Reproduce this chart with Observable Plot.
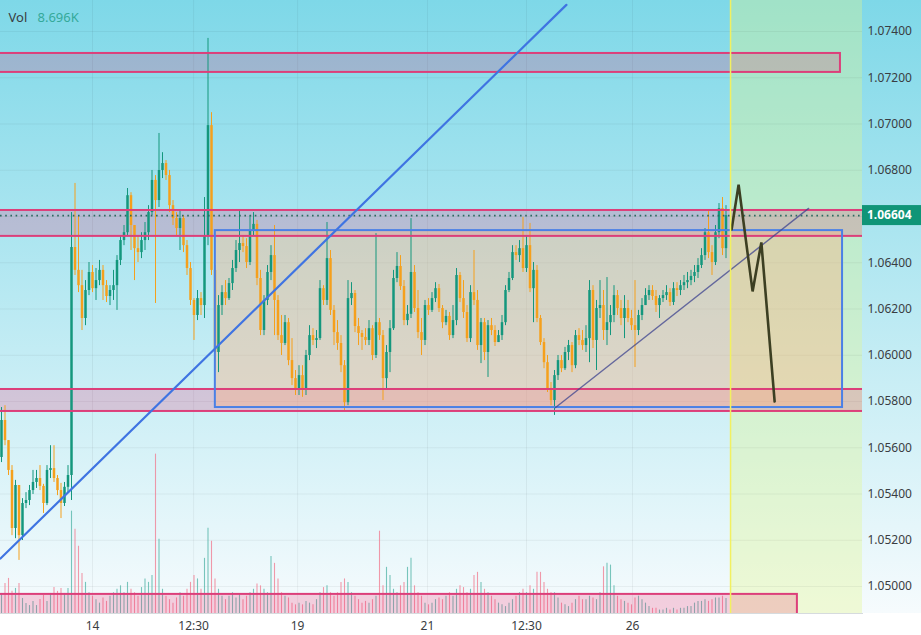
<!DOCTYPE html>
<html><head><meta charset="utf-8">
<script src="https://cdn.jsdelivr.net/npm/d3@7"></script>
<script src="https://cdn.jsdelivr.net/npm/@observablehq/plot@0.6"></script>
<style>html,body{margin:0;padding:0;background:#fff;overflow:hidden}</style>
</head><body><div id="chart"></div>
<script>
// ---- data (EUR/USD style candles) ----
const firstOpen = 1.05558;
const closes = [1.05718,1.05631,1.05502,1.05251,1.05437,1.05220,1.05359,1.05372,1.05415,1.05450,
1.05467,1.05433,1.05359,1.05502,1.05510,1.05467,1.05415,1.05359,1.05429,1.05480,
1.06466,1.06367,1.06301,1.06159,1.06280,1.06358,1.06288,1.06323,1.06367,1.06301,
1.06254,1.06280,1.06301,1.06410,1.06496,1.06530,1.06690,1.06561,1.06461,1.06444,
1.06496,1.06530,1.06617,1.06756,1.06669,1.06799,1.06829,1.06777,1.06647,1.06591,
1.06548,1.06591,1.06474,1.06375,1.06237,1.06172,1.06245,1.06215,1.06517,1.06993,
1.06367,1.06012,1.06215,1.06271,1.06245,1.06310,1.06375,1.06453,1.06483,1.06470,
1.06401,1.06539,1.06566,1.06332,1.06107,1.06237,1.06358,1.06431,1.06237,1.06085,
1.06051,1.06141,1.05977,1.05899,1.05856,1.05912,1.05848,1.05999,1.06085,1.06064,
1.06072,1.06288,1.06237,1.06418,1.06194,1.06098,1.06051,1.05955,1.05795,1.06245,
1.06267,1.06124,1.06094,1.06077,1.06064,1.06115,1.05999,1.06141,1.06085,1.05899,
1.06012,1.06115,1.06332,1.06384,1.06297,1.06150,1.06177,1.06358,1.06202,1.06098,
1.06064,1.06215,1.06194,1.06245,1.06288,1.06202,1.06141,1.06168,1.06085,1.06150,
1.06345,1.06245,1.06185,1.06072,1.06271,1.06237,1.06042,1.06141,1.06012,1.06128,
1.06107,1.06055,1.06085,1.06141,1.06280,1.06332,1.06444,1.06431,1.06461,1.06375,
1.06474,1.06288,1.06367,1.06159,1.06055,1.05968,1.05856,1.05804,1.05912,1.05977,
1.05942,1.06012,1.06042,1.05955,1.06085,1.06064,1.06042,1.06072,1.06280,1.06064,
1.06202,1.06215,1.06107,1.06141,1.06172,1.06258,1.06202,1.06159,1.06202,1.06159,
1.06128,1.06107,1.06172,1.06215,1.06258,1.06280,1.06254,1.06215,1.06245,1.06258,
1.06271,1.06228,1.06288,1.06280,1.06301,1.06314,1.06323,1.06341,1.06358,1.06388,
1.06431,1.06530,1.06444,1.06401,1.06530,1.06634,1.06461,1.06604];
const highs = [1.05774,1.05782,1.05631,1.05523,1.05459,1.05415,1.05380,1.05406,1.05437,1.05502,
1.05502,1.05523,1.05442,1.05523,1.05609,1.05609,1.05480,1.05446,1.05450,1.05523,
1.06617,1.06743,1.06604,1.06367,1.06323,1.06401,1.06388,1.06375,1.06410,1.06388,
1.06323,1.06301,1.06367,1.06431,1.06517,1.06561,1.06721,1.06703,1.06539,1.06517,
1.06530,1.06574,1.06647,1.06799,1.06777,1.06959,1.06876,1.06842,1.06799,1.06669,
1.06617,1.06626,1.06604,1.06496,1.06401,1.06245,1.06280,1.06271,1.06682,1.07370,
1.07049,1.06388,1.06258,1.06301,1.06323,1.06332,1.06410,1.06496,1.06626,1.06517,
1.06504,1.06604,1.06617,1.06583,1.06367,1.06258,1.06388,1.06474,1.06561,1.06258,
1.06172,1.06172,1.06159,1.06072,1.05934,1.05955,1.05955,1.06021,1.06128,1.06115,
1.06107,1.06323,1.06301,1.06574,1.06453,1.06215,1.06150,1.06085,1.05977,1.06323,
1.06314,1.06280,1.06159,1.06107,1.06115,1.06150,1.06128,1.06526,1.06159,1.06107,
1.06042,1.06150,1.06367,1.06444,1.06431,1.06323,1.06215,1.06591,1.06388,1.06280,
1.06159,1.06237,1.06245,1.06271,1.06314,1.06306,1.06215,1.06194,1.06185,1.06215,
1.06375,1.06358,1.06323,1.06215,1.06301,1.06453,1.06280,1.06159,1.06159,1.06150,
1.06159,1.06128,1.06107,1.06172,1.06301,1.06358,1.06474,1.06474,1.06496,1.06596,
1.06517,1.06570,1.06401,1.06388,1.06172,1.06072,1.05999,1.05882,1.05934,1.05999,
1.05999,1.06034,1.06064,1.06055,1.06107,1.06115,1.06107,1.06128,1.06323,1.06301,
1.06237,1.06323,1.06280,1.06336,1.06215,1.06301,1.06280,1.06237,1.06258,1.06237,
1.06194,1.06323,1.06194,1.06245,1.06288,1.06301,1.06301,1.06280,1.06258,1.06280,
1.06301,1.06288,1.06314,1.06314,1.06323,1.06345,1.06358,1.06367,1.06388,1.06418,
1.06461,1.06548,1.06626,1.06474,1.06561,1.06656,1.06682,1.06647];
const lows = [1.05536,1.05609,1.05480,1.05220,1.05207,1.05113,1.05199,1.05337,1.05350,1.05398,
1.05424,1.05415,1.05316,1.05350,1.05467,1.05450,1.05393,1.05294,1.05346,1.05406,
1.05372,1.06345,1.06271,1.06107,1.06128,1.06258,1.06271,1.06237,1.06301,1.06237,
1.06228,1.06215,1.06237,1.06194,1.06388,1.06474,1.06517,1.06453,1.06323,1.06401,
1.06418,1.06453,1.06496,1.06604,1.06224,1.06639,1.06764,1.06756,1.06617,1.06561,
1.06517,1.06453,1.06444,1.06345,1.06215,1.06064,1.06150,1.06172,1.06159,1.06474,
1.06345,1.05934,1.05925,1.06172,1.06215,1.06237,1.06280,1.06358,1.06401,1.06444,
1.06375,1.06388,1.06517,1.06301,1.06085,1.06085,1.06215,1.06323,1.06085,1.06064,
1.05999,1.06042,1.05955,1.05869,1.05826,1.05826,1.05818,1.05826,1.05977,1.06042,
1.06029,1.06064,1.06215,1.06215,1.06172,1.06042,1.06021,1.05925,1.05761,1.05782,
1.06215,1.06098,1.06042,1.06021,1.06042,1.06042,1.05977,1.05986,1.06064,1.05804,
1.05856,1.05925,1.06107,1.06314,1.06280,1.06128,1.06128,1.06159,1.06185,1.06072,
1.05999,1.06042,1.06172,1.06185,1.06228,1.06185,1.06115,1.06128,1.06064,1.06072,
1.06128,1.06228,1.06159,1.06055,1.06055,1.06215,1.06021,1.05964,1.05977,1.05904,
1.06085,1.06038,1.06055,1.06064,1.06128,1.06271,1.06323,1.06410,1.06401,1.06358,
1.06358,1.06271,1.06141,1.06141,1.06042,1.05942,1.05839,1.05782,1.05740,1.05891,
1.05925,1.05934,1.05977,1.05925,1.05942,1.06042,1.06021,1.06012,1.05968,1.06029,
1.05934,1.06159,1.06064,1.06042,1.06085,1.06141,1.06172,1.06128,1.06072,1.06141,
1.06107,1.05947,1.06085,1.06150,1.06215,1.06237,1.06237,1.06185,1.06159,1.06228,
1.06237,1.06211,1.06215,1.06254,1.06258,1.06280,1.06288,1.06301,1.06314,1.06332,
1.06375,1.06410,1.06418,1.06345,1.06388,1.06504,1.06431,1.06418];
const volumesK = [11.6,17.4,20.3,12.8,14.5,17.4,8.7,5.8,4.6,7.0,
4.6,8.1,10.4,7.0,11.6,15.1,12.8,14.5,11.6,14.5,
59.2,48.7,38.9,23.2,18,12,10,8,6,9,
7,10,12,14,16,12,18,14,12,10,
15,20,18,22,92.2,42.9,14,10,8,6,
9,12,10,14,18,22,20,14,31.9,49.3,
41.8,20,14,10,8,10,12,9,11,8,
10,12,14,17,16,14,12,33,29,20,
12,10,9,6,5,6,5,7,6,5,
8,12,15,16,12,10,12,18,20,18,
12,10,8,6,7,6,8,10,47.6,16,
26.7,22,14,12,16,18,26.7,31.9,16,12,
10,6,5,6,8,9,8,10,12,10,
14,16,15,12,14,22,23.8,18,14,12,
10,8,6,5,4,6,8,10,12,14,
12,16,14,23.8,23.8,18,14,12,12,9,
6,5,4,6,8,10,8,8,10,9,
8,12,27,29,28,16,10,8,7,6,
5,9,10,8,6,4,3,3,2,2,
3,2,3,2,3,3,4,4,6,7,
7,8,7,8,9,9,10,8.696];

// time axis (bar index) tick labels
const xTickPos = [26, 54.9, 84.6, 121.7, 150, 180.3];
const xTickLabels = ["14", "12:30", "19", "21", "12:30", "26"];
const yTicks = [1.050,1.052,1.054,1.056,1.058,1.060,1.062,1.064,1.066,1.068,1.070,1.072,1.074];
const yTickShown = [1.050,1.052,1.054,1.056,1.058,1.060,1.062,1.064,1.068,1.070,1.072,1.074];
const lastPrice = 1.06604;
const lastVolLabel = "8.696K";

// drawings (price zones, range box, trend lines, forecast path)
const zoneStart = [-10, -10, -10, -10];
const zoneEnd = [239.7, 260, 260, 227.4];
const zoneLow = [1.07223, 1.06514, 1.05757, 1.04800];
const zoneHigh = [1.07305, 1.06626, 1.05852, 1.04966];
const boxStart = 61.1, boxEnd = 240.3, boxLow = 1.05774, boxHigh = 1.06539;
const channelIdx = [-0.3, 161.4], channelPrice = [1.05121, 1.07515];
const trendIdx = [158.3, 230.6], trendPrice = [1.05774, 1.06635];
const forecastIdx = [208.6, 210.6, 214.6, 217.1, 220.9];
const forecastPrice = [1.06544, 1.06738, 1.06276, 1.06488, 1.05800];
const nowIdx = 208.3;

// ---- build ----
const candles = closes.map((c, i) => {
  const o = i === 0 ? firstOpen : closes[i - 1];
  return {i, o, c, h: Math.max(highs[i], o, c), l: Math.min(lows[i], o, c), v: volumesK[i], up: c >= o};
});
const zones = zoneLow.map((lo, k) => ({x1: zoneStart[k], x2: zoneEnd[k], y1: lo, y2: zoneHigh[k]}));
const channel = channelIdx.map((x, k) => ({x, y: channelPrice[k]}));
const trend = trendIdx.map((x, k) => ({x, y: trendPrice[k]}));
const forecast = forecastIdx.map((x, k) => ({x, y: forecastPrice[k]}));

const yDom = [1.048834, 1.07534];
const xDom = [-2/7, 246];
const volMax = d3.max(volumesK);
const volShare = 0.26;
const volY = v => yDom[0] + v / volMax * volShare * (yDom[1] - yDom[0]);

const UP = "#14977d", DOWN = "#f5a01c";
const PINK = "#dc3f7a";

const plot = Plot.plot({
  width: 921, height: 635,
  marginLeft: 0, marginRight: 59, marginTop: 0, marginBottom: 22,
  x: {domain: xDom},
  y: {domain: yDom},
  style: {
    background: "linear-gradient(to bottom, #7ed8e8 0px, #f6fbfd 613px, #ffffff 613px)",
    fontFamily: "'Noto Sans', sans-serif", fontSize: "12px", color: "#3a3d42"
  },
  marks: [
    Plot.rect([{x1: nowIdx, x2: 260}], {x1: "x1", x2: "x2", y1: yDom[0], y2: yDom[1], fill: "rgb(225,245,140)", fillOpacity: 0.35, clip: true}),
    Plot.gridY(yTicks, {stroke: "#000", strokeOpacity: 0.05}),
    Plot.gridX(xTickPos, {stroke: "#000", strokeOpacity: 0.05}),
    Plot.ruleX(candles, {x: "i", y1: yDom[0], y2: d => volY(d.v), stroke: d => d.up ? "#4fb3a6" : "#f0788e", strokeWidth: 1.1, strokeOpacity: 0.75}),
    Plot.rect(zones, {x1: "x1", x2: "x2", y1: "y1", y2: "y2", fill: "rgb(233,30,99)", fillOpacity: 0.2, clip: true}),
    Plot.rect([{x1: boxStart, x2: boxEnd, y1: boxLow, y2: boxHigh}], {x1: "x1", x2: "x2", y1: "y1", y2: "y2", fill: "rgb(250,182,135)", fillOpacity: 0.42}),
    Plot.ruleX(candles, {x: "i", y1: "l", y2: "h", stroke: d => d.up ? UP : DOWN, strokeWidth: 1}),
    Plot.ruleX(candles, {x: "i", y1: "o", y2: "c", stroke: d => d.up ? UP : DOWN, strokeWidth: 2.5}),
    Plot.rect(zones, {x1: "x1", x2: "x2", y1: "y1", y2: "y2", fill: "none", stroke: PINK, strokeWidth: 2, clip: true}),
    Plot.rect([{x1: boxStart, x2: boxEnd, y1: boxLow, y2: boxHigh}], {x1: "x1", x2: "x2", y1: "y1", y2: "y2", fill: "none", stroke: "#4a80e6", strokeWidth: 2}),
    Plot.ruleY([lastPrice], {stroke: "#2b6a60", strokeWidth: 1.6, strokeDasharray: "1.6,3.6"}),
    Plot.line(channel, {x: "x", y: "y", stroke: "#3f74e2", strokeWidth: 2.2, clip: true}),
    Plot.line(trend, {x: "x", y: "y", stroke: "#3d438f", strokeWidth: 1.4, strokeOpacity: 0.75, clip: true}),
    Plot.line(forecast, {x: "x", y: "y", stroke: "#3c3f22", strokeWidth: 2.6, strokeLinejoin: "miter"}),
    Plot.ruleX([nowIdx], {stroke: "#f2f060", strokeWidth: 1.5}),
    Plot.frame({anchor: "bottom", stroke: "#d6dbde"}),
    Plot.axisY({anchor: "right", ticks: yTickShown, tickFormat: d => d.toFixed(5), tickSize: 0, tickPadding: 5, label: null, fill: "#3a3d42", fontSize: 12}),
    Plot.axisX({ticks: xTickPos, tickFormat: (d, k) => xTickLabels[k], tickSize: 0, tickPadding: 8, label: null, fill: "#3a3d42", fontSize: 12}),
    Plot.text(["Vol"], {frameAnchor: "top-left", dx: 8, dy: 17, lineAnchor: "middle", textAnchor: "start", fill: "#3a3d42", fontSize: 13}),
    Plot.text([lastVolLabel], {frameAnchor: "top-left", dx: 37, dy: 17, lineAnchor: "middle", textAnchor: "start", fill: "#35a99a", fontSize: 13})
  ]
});

// last price badge on the price axis, placed through Plot's own y scale
const yS = plot.scale("y");
const svg = d3.select(plot);
const py = yS.apply(lastPrice);
const g = svg.append("g");
g.append("rect").attr("x", 862).attr("y", py - 10).attr("width", 59).attr("height", 20).attr("fill", "#0f9577");
g.append("text").attr("x", 867).attr("y", py).attr("dy", "0.35em").attr("fill", "#fff")
  .attr("text-anchor", "start")
  .attr("font-size", 12).attr("font-weight", "bold").attr("font-family", "'Noto Sans', sans-serif").text(lastPrice.toFixed(5));

document.getElementById("chart").appendChild(plot);
</script>
</body></html>
